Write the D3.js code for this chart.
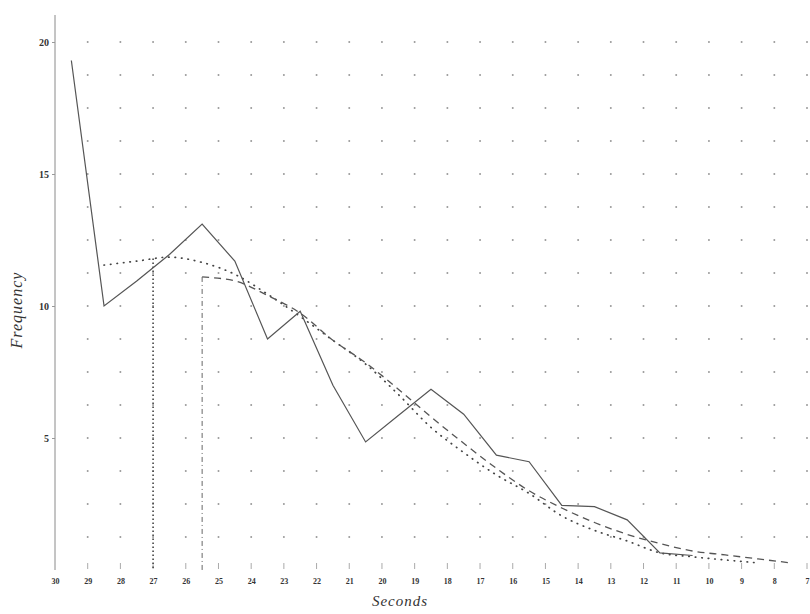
<html>

<head>
    <script src="https://d3js.org/d3.v7.min.js"></script>
    <style>
        body {
            margin: 0;
            background: #fff;
        }

        text {
            font-family: "Liberation Serif", "DejaVu Serif", serif;
            fill: #333;
        }
    </style>
</head>

<body>
    <svg height="614" width="810"></svg>

    <script>
        // tick labels
        const secondsTicks = [30, 29, 28, 27, 26, 25, 24, 23, 22, 21, 20, 19, 18, 17, 16, 15, 14, 13, 12, 11, 10, 9, 8, 7];
        const freqTicks = [5, 10, 15, 20];

        // class centres (seconds)
        const midSeconds = [29.5, 28.5, 27.5, 26.5, 25.5, 24.5, 23.5, 22.5, 21.5, 20.5, 19.5, 18.5,
            17.5, 16.5, 15.5, 14.5, 13.5, 12.5, 11.5, 10.5, 9.5, 8.5, 7.5];

        // observed frequencies (solid), from 29.5 s
        const observed = [19.3, 10.0, 10.95, 11.95, 13.1, 11.7, 8.75, 9.8, 7.0, 4.85, 5.85, 6.85,
            5.9, 4.35, 4.1, 2.45, 2.4, 1.9, 0.65, 0.55];

        // dashed curve, from 25.5 s
        const dashedFit = [11.1, 10.95, 10.4, 9.73, 8.7, 7.85, 6.85, 5.8, 4.8, 3.85, 3.0, 2.35,
            1.8, 1.35, 1.0, 0.72, 0.57, 0.42, 0.27];

        // dotted curve, from 28.5 s
        const dottedFit = [11.55, 11.7, 11.85, 11.65, 11.2, 10.45, 9.6, 8.7, 7.8, 6.65, 5.4, 4.45,
            3.6, 2.9, 2.05, 1.5, 1.1, 0.65, 0.5, 0.38, 0.27];

        // mode ordinates
        const modeSeconds = [27, 25.5];
        const modeValues = [11.8, 11.1];

        const svg = d3.select("svg");

        const x = d3.scaleLinear().domain([30, 7]).range([55, 807]);
        const y = d3.scaleLinear().domain([0, 20]).range([570, 42]);

        // dotted grid
        const gridRows = d3.range(0, 20.01, 1.25);
        const grid = svg.append("g");
        secondsTicks.slice(1).forEach(s => {
            gridRows.slice(1).forEach(r => {
                grid.append("circle")
                    .attr("cx", x(s))
                    .attr("cy", y(r))
                    .attr("r", 1)
                    .attr("fill", "#9a9a9a");
            });
        });

        // left axis
        svg.append("line")
            .attr("x1", x(30)).attr("x2", x(30))
            .attr("y1", 15).attr("y2", y(0))
            .attr("stroke", "#8a8a8a")
            .attr("stroke-width", 1);

        let leftAxis = d3.axisLeft(y).tickValues(freqTicks).tickSize(3).tickPadding(3);
        let gLeft = svg.append("g")
            .attr("transform", `translate(${x(30)},0)`)
            .call(leftAxis);
        gLeft.select(".domain").remove();
        gLeft.selectAll("line").attr("stroke", "#999");
        gLeft.selectAll("text")
            .style("font-size", "10px")
            .style("font-weight", "bold")
            .style("font-family", "'Liberation Serif', serif")
            .attr("fill", "#333");

        let bottomAxis = d3.axisBottom(x).tickValues(secondsTicks).tickSize(0).tickPadding(8)
            .tickFormat(d3.format("d"));
        let gBottom = svg.append("g")
            .attr("transform", `translate(0,${y(0)})`)
            .call(bottomAxis);
        gBottom.select(".domain").remove();
        gBottom.selectAll("text")
            .style("font-size", "8px")
            .style("font-weight", "bold")
            .style("font-family", "'Liberation Serif', serif")
            .attr("fill", "#333");

        // small ticks above the labels
        secondsTicks.slice(1).forEach(s => {
            svg.append("line")
                .attr("x1", x(s)).attr("x2", x(s))
                .attr("y1", y(0) - 7).attr("y2", y(0) - 1)
                .attr("stroke", "#aaa");
        });

        // mode ordinates
        svg.append("line")
            .attr("x1", x(modeSeconds[0])).attr("x2", x(modeSeconds[0]))
            .attr("y1", y(modeValues[0])).attr("y2", y(0))
            .attr("stroke", "#444")
            .attr("stroke-width", 1.6)
            .attr("stroke-dasharray", "1.5,2.5");
        svg.append("line")
            .attr("x1", x(modeSeconds[1])).attr("x2", x(modeSeconds[1]))
            .attr("y1", y(modeValues[1])).attr("y2", y(0))
            .attr("stroke", "#666")
            .attr("stroke-width", 1)
            .attr("stroke-dasharray", "5,3,1,3");

        const line = d3.line().x(d => x(d[0])).y(d => y(d[1]));
        const smooth = d3.line().x(d => x(d[0])).y(d => y(d[1])).curve(d3.curveMonotoneX);

        svg.append("path")
            .datum(dottedFit.map((v, i) => [midSeconds[i + 1], v]))
            .attr("d", smooth)
            .attr("fill", "none")
            .attr("stroke", "#444")
            .attr("stroke-width", 1.7)
            .attr("stroke-linecap", "round")
            .attr("stroke-dasharray", "0.5,6");

        svg.append("path")
            .datum(dashedFit.map((v, i) => [midSeconds[i + 4], v]))
            .attr("d", smooth)
            .attr("fill", "none")
            .attr("stroke", "#555")
            .attr("stroke-width", 1.3)
            .attr("stroke-dasharray", "7,5");

        svg.append("path")
            .datum(observed.map((v, i) => [midSeconds[i], v]))
            .attr("d", line)
            .attr("fill", "none")
            .attr("stroke", "#555")
            .attr("stroke-width", 1.2);

        // axis titles
        svg.append("text")
            .attr("transform", "translate(22,310) rotate(-90)")
            .attr("text-anchor", "middle")
            .style("font-size", "16px")
            .style("font-style", "italic")
            .style("letter-spacing", "1px")
            .text("Frequency");

        svg.append("text")
            .attr("x", 400)
            .attr("y", 606)
            .attr("text-anchor", "middle")
            .style("font-size", "15px")
            .style("font-style", "italic")
            .style("letter-spacing", "1px")
            .text("Seconds");
    </script>
</body>

</html>
